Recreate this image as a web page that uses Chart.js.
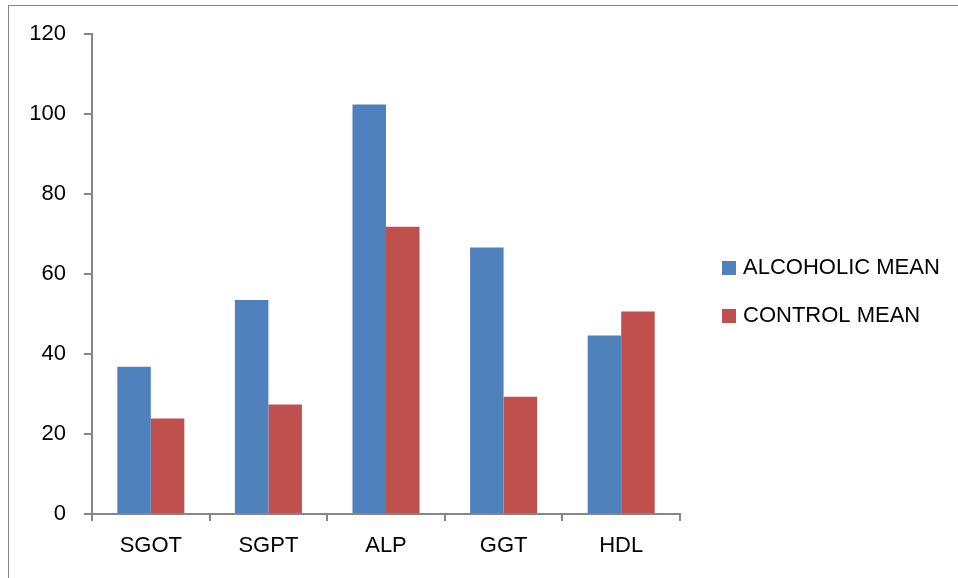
<!DOCTYPE html>
<html>
<head>
<meta charset="utf-8">
<script src="https://cdn.jsdelivr.net/npm/chart.js@4/dist/chart.umd.min.js"></script>
<style>
  html, body { margin: 0; padding: 0; background: #fff; overflow: hidden; }
  #frame { position: absolute; left: 8px; top: 5px; width: 1000px; height: 1000px; border: 1px solid #868686; }
  #wrap { position: absolute; left: 0; top: 0; width: 958px; height: 578px; }
</style>
</head>
<body>
<div id="frame"></div>
<div id="wrap"><canvas id="chart" width="958" height="578"></canvas></div>
<script>
// --- Datos ---
const categories = ['SGOT', 'SGPT', 'ALP', 'GGT', 'HDL'];
const alcoholicMean = [36.8, 53.5, 102.4, 66.6, 44.6];
const controlMean = [23.9, 27.4, 71.8, 29.3, 50.6];
const seriesNames = ['ALCOHOLIC MEAN', 'CONTROL MEAN'];
const yTicks = [0, 20, 40, 60, 80, 100, 120];

const FONT = '"Liberation Sans", Arial, sans-serif';
const FSIZE = 22;
const AXIS = '#868686';

// leyenda dibujada a mano, a la derecha
const sideLegend = {
    id: 'sideLegend',
    afterDraw(chart) {
        const ctx = chart.ctx;
        ctx.save();
        ctx.font = FSIZE + 'px ' + FONT;
        ctx.textBaseline = 'middle';
        ctx.textAlign = 'left';
        chart.data.datasets.forEach((ds, i) => {
            const y = 268 + i * 48;
            ctx.fillStyle = ds.backgroundColor;
            ctx.fillRect(722, y - 7, 14, 14);
            ctx.fillStyle = '#000';
            ctx.fillText(ds.label, 743, y);
        });
        ctx.restore();
    }
};

new Chart(document.getElementById('chart').getContext('2d'), {
    type: 'bar',
    data: {
        labels: categories,
        datasets: [
            { label: seriesNames[0], data: alcoholicMean, backgroundColor: '#4F81BD', borderWidth: 0 },
            { label: seriesNames[1], data: controlMean, backgroundColor: '#C0504D', borderWidth: 0 }
        ]
    },
    options: {
        responsive: false,
        animation: false,
        layout: { padding: { left: 0, top: 34, right: 278, bottom: 0 } },
        datasets: { bar: { barPercentage: 1, categoryPercentage: 0.57 } },
        scales: {
            x: {
                grid: { display: true, drawOnChartArea: false, offset: true, tickLength: 7, color: AXIS, lineWidth: 2 },
                border: { color: AXIS, width: 2 },
                ticks: { color: '#000', padding: 12, maxRotation: 0, font: { family: FONT, size: FSIZE } },
                afterFit: (s) => { s.height = 64; }
            },
            y: {
                min: 0,
                max: 120,
                afterBuildTicks: (s) => { s.ticks = yTicks.map(v => ({ value: v })); },
                grid: { display: true, drawOnChartArea: false, tickLength: 8, color: AXIS, lineWidth: 2 },
                border: { color: AXIS, width: 2 },
                ticks: { color: '#000', padding: 18, font: { family: FONT, size: FSIZE } },
                afterFit: (s) => { s.width = 92; }
            }
        },
        plugins: {
            legend: { display: false },
            tooltip: { enabled: false }
        }
    },
    plugins: [sideLegend]
});
</script>
</body>
</html>
